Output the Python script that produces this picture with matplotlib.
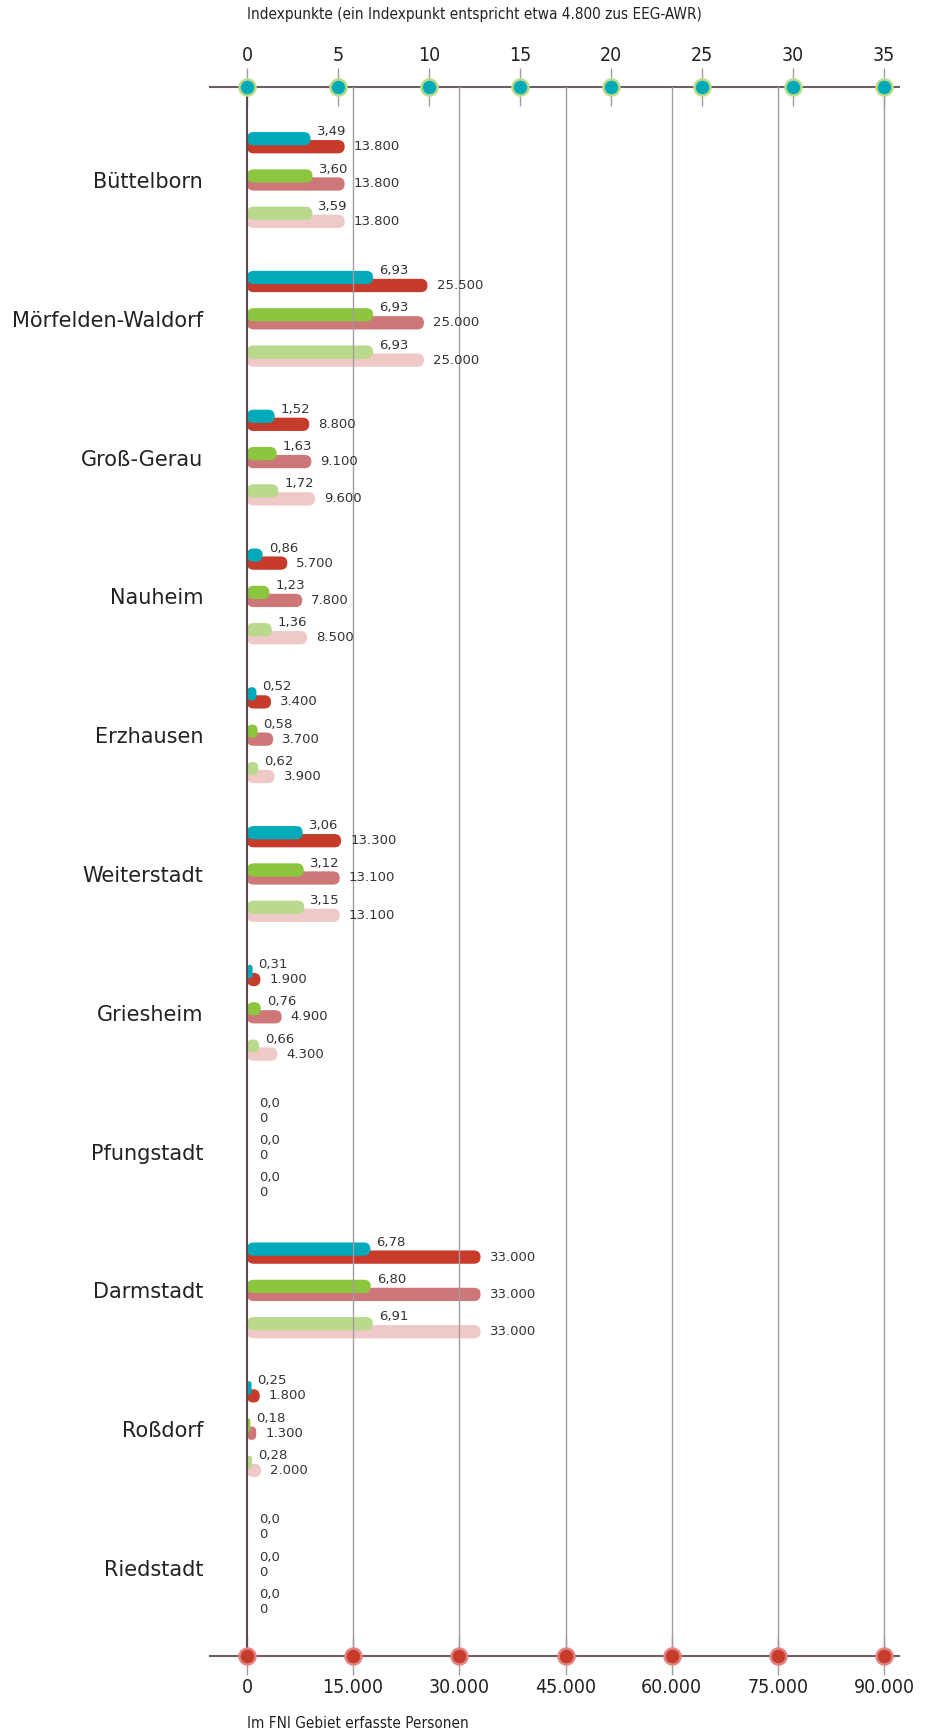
import numpy as np
import matplotlib.pyplot as plt
from matplotlib.patches import FancyBboxPatch

# Gemeinden und Werte (drei Stände je Gemeinde)
towns = ['Büttelborn', 'Mörfelden-Waldorf', 'Groß-Gerau', 'Nauheim', 'Erzhausen',
         'Weiterstadt', 'Griesheim', 'Pfungstadt', 'Darmstadt', 'Roßdorf', 'Riedstadt']
index_a = [3.49, 6.93, 1.52, 0.86, 0.52, 3.06, 0.31, 0, 6.78, 0.25, 0]
index_b = [3.60, 6.93, 1.63, 1.23, 0.58, 3.12, 0.76, 0, 6.80, 0.18, 0]
index_c = [3.59, 6.93, 1.72, 1.36, 0.62, 3.15, 0.66, 0, 6.91, 0.28, 0]
persons_a = [13800, 25500, 8800, 5700, 3400, 13300, 1900, 0, 33000, 1800, 0]
persons_b = [13800, 25000, 9100, 7800, 3700, 13100, 4900, 0, 33000, 1300, 0]
persons_c = [13800, 25000, 9600, 8500, 3900, 13100, 4300, 0, 33000, 2000, 0]

index_ticks = [0, 5, 10, 15, 20, 25, 30, 35]
person_ticks = [0, 15000, 30000, 45000, 60000, 75000, 90000]
ratio = 90000 / 35  # Personen je Indexpunkt (Skalenverhältnis)

index_cols = ['#00aabb', '#8cc63f', '#b9da8c']
person_cols = ['#c63b29', '#cd7778', '#efc9c7']

cond = dict(fontfamily='DejaVu Sans', fontstretch='condensed')

fig = plt.figure(figsize=(9.3, 17.29), dpi=100)
ax = fig.add_axes([210 / 930, 1 - 1656 / 1729, 689 / 930, 1569 / 1729])
xl = (-5228, 92119)
yl = (10.634, -0.670)
ax.set_xlim(*xl)
ax.set_ylim(*yl)

# Dateneinheiten je Pixel
a_x = (xl[1] - xl[0]) / 689
a_y = (yl[0] - yl[1]) / 1569


def rbar(x0, w, yc, h, color, z):
    if w <= 0:
        return
    r = min(w / a_x, h / a_y) / 2 * a_x
    p = FancyBboxPatch((x0, yc - h / 2), w, h,
                       boxstyle=f"round,pad=0,rounding_size={r}",
                       mutation_aspect=a_y / a_x, fc=color, ec='none', lw=0, zorder=z)
    ax.add_patch(p)


def fmt_idx(v):
    return f"{v:.2f}".replace('.', ',') if v else "0,0"


def fmt_pers(p):
    return f"{p:,}".replace(',', '.')


idx_series = [index_a, index_b, index_c]
pers_series = [persons_a, persons_b, persons_c]
pair_off = [-0.2687, 0, 0.2687]
h = 13.3 * a_y
for k in range(3):
    for i in range(len(towns)):
        yc = i + pair_off[k]
        yi = yc - 4 * a_y
        yp = yc + 4 * a_y
        iv = idx_series[k][i]
        pv = pers_series[k][i]
        rbar(0, pv, yp, h, person_cols[k], 1)
        rbar(0, iv * ratio, yi, h, index_cols[k], 1.5)
        ax.annotate(fmt_idx(iv), (iv * ratio, yi), xytext=(4.3 if iv else 8.5, 5),
                    textcoords='offset points', ha='left', va='center',
                    fontsize=9.5, color='#333333', zorder=6)
        ax.annotate(fmt_pers(pv), (pv, yp), xytext=(6.5 if pv else 8.5, 0),
                    textcoords='offset points', ha='left', va='center',
                    fontsize=9.5, color='#333333', zorder=6)

# Gitterlinien
for p in person_ticks[1:]:
    ax.axvline(p, color='#a69a9e', lw=1, zorder=2)
ax.axvline(0, color='#5a4a4e', lw=1.5, zorder=2)

for s in ['left', 'right', 'top']:
    ax.spines[s].set_visible(False)
ax.spines['bottom'].set_color('#6e5f63')
ax.spines['bottom'].set_linewidth(1.5)

ax.set_xticks(person_ticks)
ax.set_xticklabels([fmt_pers(p) for p in person_ticks], fontsize=14, **cond)
ax.tick_params(axis='x', direction='inout', length=28, width=1, color='#a69a9e',
               pad=2, labelcolor='#222222')

ax.set_yticks(range(len(towns)))
ax.set_yticklabels(towns, fontsize=15, color='#222222')
ax.tick_params(axis='y', length=0, pad=5)

sec = ax.secondary_xaxis('top', functions=(lambda x: x / ratio, lambda x: x * ratio))
sec.set_xticks(index_ticks)
sec.set_xticklabels([str(t) for t in index_ticks], fontsize=14, **cond)
sec.tick_params(axis='x', direction='inout', length=28, width=1, color='#a69a9e',
                pad=2, labelcolor='#222222')
sec.spines['top'].set_color('#6e5f63')
sec.spines['top'].set_linewidth(1.5)

# Achsenmarker
tr = ax.get_xaxis_transform()
ax.plot(np.array(index_ticks) * ratio, [1] * len(index_ticks), 'o', transform=tr,
        ms=11.5, mfc='#00a9b8', mec='#b9dc8a', mew=1.8, clip_on=False, zorder=7)
ax.plot(person_ticks, [0] * len(person_ticks), 'o', transform=tr,
        ms=11.5, mfc='#c63b29', mec='#e08584', mew=1.8, clip_on=False, zorder=7)

ax.text(0, 1 + 73 / 1569, 'Indexpunkte (ein Indexpunkt entspricht etwa 4.800 zus EEG-AWR)',
        transform=tr, ha='left', va='center', fontsize=11, color='#222222', **cond)
ax.text(0, -67 / 1569, 'Im FNI Gebiet erfasste Personen', transform=tr, ha='left',
        va='center', fontsize=11, color='#222222', **cond)

fig.savefig('out.png', dpi=100)
